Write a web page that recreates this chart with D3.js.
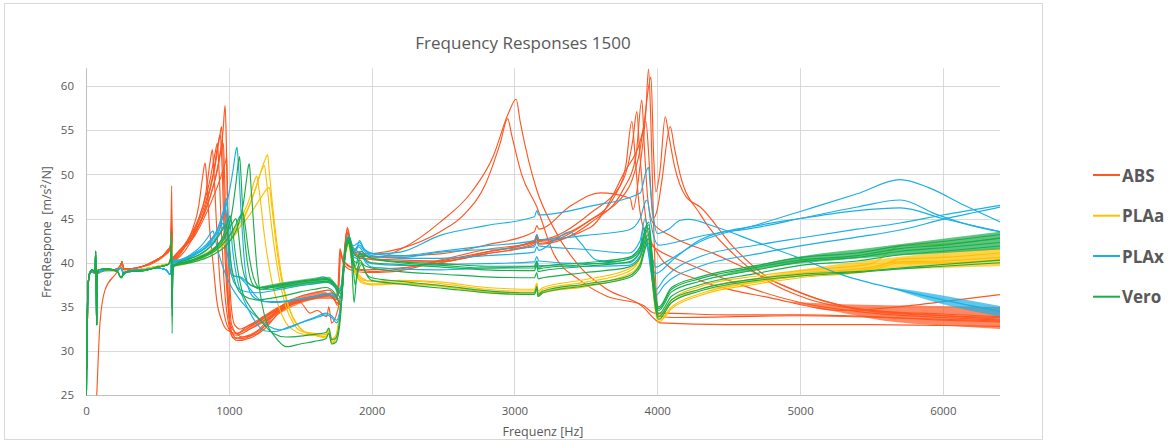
<!DOCTYPE html>
<html><head><meta charset="utf-8">
<script src="https://cdn.jsdelivr.net/npm/d3@7"></script>
<style>body{margin:0;background:#fff} text{font-family:"Open Sans",sans-serif}</style>
</head><body><svg id="c" width="1175" height="443"></svg>
<script>
const seriesNames = ["ABS","PLAa","PLAx","Vero"];
const seriesColors = ["#FF5722","#FFC000","#1AAFE6","#19AD4C"];
const xTicks = [0,1000,2000,3000,4000,5000,6000];
const yTicks = [25,30,35,40,45,50,55,60];

// shared low-frequency parts [Hz, value]
const absLow = [[5,28],[12,35.5],[22,38.6],[40,39.1],[62,38.8],[70,39.6],[78,38.8],[120,39.1],[200,39.2],[240,39.6],[252,40.1],[262,39.3],[300,39.3],[400,39.6],[480,40.2],[540,40.8],[585,41.6]];
const plaaLow = [[5,29],[12,36],[22,38.6],[40,39],[70,38.9],[150,39.1],[220,39.1],[248,39.5],[262,38.9],[300,39.1],[400,39.3],[500,39.6],[575,39.9]];
const plaxLow = [[5,29],[12,36],[22,38.6],[40,39],[70,38.9],[150,39.2],[220,39.2],[248,39.4],[262,38.7],[300,39.1],[400,39.2],[500,39.4],[560,39.2],[588,38.7]];
const veroLow = [[3,25],[8,33],[15,37.5],[25,38.8],[45,39.2],[62,38.9],[68,41.3],[72,36],[75,33],[78,38.6],[90,39.2],[150,39.3],[220,39],[245,38.3],[258,38.6],[270,38.9],[300,39],[400,39.1],[500,39.5],[575,39.8]];

// ABS curves
const abs1 = absLow.concat([[594,42.5],[600,48.7],[604,37.5],[610,40.2],[620,40.3],[680,41.5],[740,43.5],[790,46.5],[815,49.5],[834,51.3],[845,49.5],[865,44],[892,39.6],[915,35.8],[950,33.5],[987,32.4],[1050,32],[1150,32.8],[1250,33.8],[1400,35.3],[1500,35.8],[1600,36.2],[1700,36.5],[1745,36],[1765,37.5],[1778,41.6],[1795,40.5],[1830,39.8],[1900,39.2],[2000,39],[2200,39.3],[2480,40.3],[2800,41.5],[3140,42.3],[3157,42.9],[3170,42.2],[3500,44.5],[3700,47.5],[3780,51],[3822,56],[3845,52],[3870,47],[3920,43],[3960,42],[4000,41.5],[4200,40],[4500,38],[5000,35.5],[5500,34.3],[6000,33.8],[6400,33.5]]);
const abs2 = absLow.concat([[594,42],[600,45],[604,38.5],[610,40.3],[620,40.5],[700,42],[780,44.5],[840,48],[870,51.5],[885,52.8],[895,50.5],[915,44],[940,37.5],[970,34],[1000,32.5],[1050,31.8],[1150,32.5],[1250,33.5],[1400,35],[1500,35.5],[1569,34.3],[1620,34.6],[1686,33.9],[1700,35],[1720,33.2],[1760,34.5],[1790,37],[1815,42],[1830,44],[1850,42.5],[1880,41.2],[1950,41],[2036,41.1],[2200,41.6],[2480,43.5],[2650,45.5],[2800,49],[2900,53.5],[2953,56.3],[2980,54.5],[3050,50],[3157,46.3],[3272,41.1],[3460,38],[3647,36.2],[3900,35.2],[3980,34.3],[4020,34.3],[4500,34.1],[5000,34.1],[5500,33.9],[6000,33.5],[6400,33.3]]);
const abs3 = absLow.concat([[594,41.8],[600,44],[604,39],[610,40.4],[620,40.6],[700,42.3],[800,45.5],[870,49.5],[905,52.5],[920,53.5],[930,51],[950,43],[975,36],[1000,33],[1030,31.5],[1100,31.6],[1200,32.3],[1300,34],[1400,35.5],[1500,36.2],[1600,36.6],[1700,36.9],[1750,36.2],[1780,35.5],[1800,39.5],[1825,43.5],[1850,42.3],[1900,41.3],[2036,40.6],[2200,41.5],[2480,44.6],[2700,48],[2850,52],[2960,57],[3012,58.5],[3040,56],[3100,51.5],[3157,48.2],[3272,44],[3460,39.5],[3647,37],[3900,35],[3990,33.5],[4020,33.2],[4500,33],[5500,33],[6000,32.9],[6400,32.8]]);
const abs4 = absLow.concat([[594,41.7],[600,43],[604,39.5],[610,40.3],[620,40.4],[720,42.5],[820,46],[890,50],[925,53.5],[940,54.5],[950,52],[970,42],[990,36],[1010,33],[1050,32],[1100,31.6],[1200,32],[1300,33.8],[1400,35.2],[1500,35.9],[1600,36.2],[1700,36.4],[1760,35.5],[1785,36],[1810,41],[1830,43.5],[1860,41.5],[1950,40.5],[2100,40.2],[2480,40.1],[2800,41.2],[3140,42.5],[3157,43.2],[3170,42.6],[3531,45.6],[3762,49.4],[3830,54],[3857,57.1],[3875,53],[3900,48],[3940,43],[3970,42],[4050,40],[4300,38],[4800,36],[5300,34.6],[5800,35.2],[6100,35.8],[6400,36.4]]);
const abs5 = absLow.concat([[594,41.6],[600,42.5],[604,38.8],[610,40.1],[620,40.2],[720,42],[830,46],[905,51],[938,54.5],[950,55.4],[958,52.5],[975,43],[995,35.5],[1020,32.2],[1060,31.4],[1120,31.5],[1200,32.2],[1300,33.5],[1400,35],[1500,35.6],[1600,36],[1700,36.3],[1750,35.8],[1770,37.5],[1780,41.3],[1800,40.3],[1850,39.5],[1950,39.2],[2100,39.3],[2480,40],[2800,41],[3140,42],[3157,42.7],[3170,42.1],[3531,44.5],[3762,48.3],[3850,52],[3892,58.4],[3910,53],[3935,47],[3970,44.5],[4100,43],[4400,41],[4800,38],[5200,35.5],[5800,34.2],[6400,33.8]]);
const abs6 = absLow.concat([[594,42],[600,44],[604,38],[610,40.5],[620,40.7],[730,42.5],[850,46.5],[920,50.5],[950,53],[962,53.5],[970,50],[985,41],[1000,35],[1020,31.8],[1060,31.2],[1150,31.5],[1250,32.5],[1350,34.3],[1450,35.4],[1550,36],[1650,36.3],[1720,36.6],[1760,35.2],[1785,35.5],[1815,42],[1830,43.8],[1860,41.8],[1920,40.7],[2036,40.7],[2480,41],[2800,42],[3140,43.5],[3157,44.2],[3170,43.8],[3400,46.5],[3600,47.9],[3811,47.3],[3830,46],[3880,51],[3920,57],[3939,61.9],[3955,56],[3975,44],[3995,36],[4010,34],[4100,33.8],[5000,34],[5600,33.8],[6400,33.4]]);
const abs7 = absLow.concat([[594,42.3],[600,46],[604,37.5],[610,40.6],[620,40.8],[740,43],[860,47],[930,51.5],[960,55],[974,57.8],[982,54],[992,45],[1000,40.5],[1015,35.5],[1040,33],[1080,32.5],[1150,33],[1250,34],[1350,35],[1450,35.6],[1550,35.8],[1650,36.1],[1720,36.3],[1760,35.4],[1785,35.5],[1812,41],[1828,43.3],[1860,41.5],[1920,40.5],[2036,40.4],[2480,40.2],[2800,41],[3140,42.2],[3157,43],[3170,42.4],[3531,44],[3762,50],[3900,55],[3956,61],[3975,52],[3990,48],[4020,50.5],[4056,56.5],[4080,54.5],[4120,51],[4200,47.5],[4301,46.3],[4532,41.8],[4768,38.4],[5002,36.6],[5234,35.4],[5500,34.5],[6000,34],[6400,33.6]]);
const abs8 = [[55,18],[75,25],[98,33.2],[133,36.9],[215,38.9],[250,39.9],[270,39.2],[350,39.4],[450,39.8],[550,40.8],[590,41.5],[600,44.5],[606,38.5],[620,40.5],[760,43],[880,47],[950,50],[978,51.5],[985,52],[990,49],[998,41],[1005,36],[1020,33],[1060,32],[1120,32.7],[1200,33.3],[1300,34.3],[1400,35.1],[1500,35.7],[1600,36],[1700,36.4],[1750,35.8],[1772,37.6],[1782,41],[1800,40],[1850,39.2],[1950,38.9],[2150,39],[2480,40.2],[2800,41.2],[3140,42.4],[3157,43.1],[3170,42.5],[3531,44.8],[3800,48.5],[3870,52],[3920,56],[3945,51],[3970,45],[4000,46],[4030,49],[4091,55.4],[4120,53],[4160,50],[4300,45.5],[4532,41],[4768,38],[5002,36.2],[5500,34.6],[6000,34.2],[6400,33.9]];

// PLAa curves
const plaa1 = plaaLow.concat([[592,40.4],[599,42.5],[605,38.6],[612,39.7],[650,39.8],[750,40.3],[850,41],[950,42],[1030,43.5],[1100,45.5],[1150,47.5],[1180,49.3],[1196,49.8],[1210,48.5],[1250,43],[1300,38],[1350,35],[1400,33.2],[1450,32.4],[1500,32],[1600,31.8],[1680,31.7],[1700,32.4],[1720,31.2],[1750,31.5],[1775,34],[1800,39],[1830,42.5],[1860,40.5],[1900,38.6],[1950,38],[2100,37.8],[2300,37.9],[2500,37.6],[2800,37],[3000,36.8],[3140,36.8],[3157,37.5],[3165,36.6],[3200,37],[3500,37.8],[3800,39],[3870,40.2],[3920,42.5],[3935,43],[3960,39],[3985,35],[4005,33.8],[4100,35.5],[4300,37],[4700,38.2],[5000,38.8],[5500,39.5],[5680,40.1],[6000,40.2],[6400,40.6]]);
const plaa2 = plaaLow.concat([[592,40.3],[599,42],[605,38.8],[612,39.6],[650,39.7],[750,40.1],[850,40.8],[950,41.8],[1050,43.3],[1120,45.5],[1180,48],[1230,50.5],[1250,51],[1262,49.5],[1300,44],[1350,38.5],[1400,35],[1450,33.2],[1500,32.3],[1600,31.9],[1680,31.6],[1700,32.2],[1720,31],[1750,31.4],[1778,34.5],[1805,40],[1835,42.2],[1870,39.5],[1920,38],[2000,37.6],[2200,37.7],[2500,37.4],[2800,36.7],[3140,36.5],[3157,37.2],[3165,36.3],[3200,36.7],[3500,37.5],[3800,38.7],[3880,40],[3925,42.3],[3940,42.5],[3965,38],[3990,34.5],[4010,33.5],[4100,35],[4300,36.5],[4700,37.8],[5000,38.5],[5500,39.3],[5700,40.4],[6000,40.6],[6400,41.1]]);
const plaa3 = plaaLow.concat([[592,40.5],[599,43],[605,38.5],[612,39.8],[650,39.9],[750,40.4],[850,41.2],[950,42.3],[1050,43.8],[1130,46],[1200,49],[1250,51.5],[1272,52.2],[1282,50.5],[1320,44.5],[1370,38.5],[1420,35],[1480,33],[1530,32.2],[1600,32],[1680,31.9],[1700,32.6],[1720,31.4],[1750,31.8],[1780,35],[1808,40.5],[1838,42.8],[1875,40],[1930,38.3],[2000,37.9],[2200,38],[2500,37.8],[2800,37.2],[3140,37],[3157,37.7],[3165,36.8],[3200,37.2],[3500,38.1],[3800,39.3],[3880,40.6],[3925,43.5],[3940,43.8],[3965,39],[3990,35],[4010,34],[4100,35.8],[4300,37.3],[4700,38.5],[5000,39.1],[5500,39.9],[5700,41.9],[6000,42.1],[6400,42.8]]);
const plaa4 = plaaLow.concat([[592,40.3],[599,41.8],[605,38.9],[612,39.6],[650,39.8],[750,40.2],[850,40.9],[950,41.9],[1050,43.5],[1150,45.5],[1230,47.5],[1270,48.4],[1285,48.5],[1300,46.5],[1340,41],[1390,36.5],[1450,33.7],[1500,32.6],[1550,32],[1620,31.7],[1680,31.5],[1700,32.1],[1720,30.9],[1750,31.2],[1780,34.8],[1810,40.2],[1840,42],[1880,39.3],[1930,37.7],[2000,37.5],[2200,37.6],[2500,37.3],[2800,36.6],[3140,36.4],[3157,37.1],[3165,36.2],[3200,36.6],[3500,37.3],[3800,38.5],[3880,39.8],[3925,42],[3940,42.2],[3965,38],[3990,34.2],[4010,33.3],[4100,34.8],[4300,36.3],[4700,37.6],[5000,38.3],[5500,39.1],[5700,40],[6000,40],[6400,40.3]]);

// PLAx curves
const plax1 = plaxLow.concat([[596,39],[600,41.5],[605,38.8],[615,40.2],[650,40.3],[750,41],[850,42.2],[930,44],[990,47],[1030,50.5],[1050,52.7],[1057,53.1],[1066,51.5],[1085,46],[1110,40],[1140,37],[1180,36],[1250,35.6],[1350,35.6],[1450,35.8],[1550,36],[1650,36.3],[1720,36.5],[1765,35.9],[1790,36.6],[1815,41],[1838,43.1],[1870,41.6],[1890,41.3],[1915,42.5],[1945,41.6],[2000,41],[2200,40.8],[2480,41.3],[2800,41.9],[3140,42.5],[3157,43.2],[3170,42.6],[3500,43.1],[3800,43.7],[3880,45],[3920,47],[3930,47.1],[3955,44.5],[3985,42.5],[4010,42],[4150,42.4],[4300,43],[4700,44],[5000,45],[5400,46.3],[5702,47.1],[5950,45.5],[6200,44.2],[6404,43.5]]);
const plax2 = plaxLow.concat([[596,39.1],[600,40.5],[605,39],[615,40.3],[650,40.3],[750,40.9],[850,42],[920,43.8],[960,45.8],[978,47],[985,47.3],[992,46],[1005,42],[1030,38.5],[1079,38.4],[1150,37.5],[1219,37.2],[1300,37.4],[1400,37.7],[1500,37.9],[1600,38.1],[1661,38.4],[1720,37.8],[1779,37.1],[1800,38.5],[1822,42],[1840,42.9],[1870,41.9],[1915,42.3],[1950,41.5],[2036,41],[2200,41.2],[2480,43.1],[2800,44.2],[3140,45.2],[3157,45.9],[3170,45.4],[3531,46.4],[3881,47.9],[3920,50.2],[3939,50.8],[3952,48.5],[3975,45],[4000,43.3],[4080,43.8],[4161,44.8],[4220,44.9],[4400,44.1],[4700,42.3],[5000,40.5],[5300,38.6],[5702,36.9],[6000,35.8],[6404,34.5]]);
const plax3 = plaxLow.concat([[596,39],[600,40.8],[605,38.9],[615,40.1],[650,40.1],[750,40.6],[850,41.5],[920,43],[955,45],[975,46.5],[983,45.5],[995,42],[1020,38.5],[1060,37.2],[1100,36.8],[1200,36.6],[1300,36.8],[1400,37.1],[1500,37.4],[1600,37.6],[1680,37.8],[1740,37.3],[1785,36.5],[1812,41.2],[1836,42.6],[1870,41.2],[1910,41.8],[1950,41],[2000,40.7],[2200,40.6],[2480,41.2],[2800,41.5],[3140,41.8],[3157,42.4],[3170,41.9],[3500,41.5],[3800,41.1],[3880,42.5],[3915,45],[3930,44],[3960,41],[3990,39.5],[4050,40],[4301,42.4],[4700,44.3],[5002,45.8],[5400,47.8],[5702,49.4],[5900,48.5],[6150,46.5],[6404,44.6]]);
const plax4 = plaxLow.concat([[596,38.9],[600,40.2],[605,39.1],[615,40],[650,40.1],[720,40.8],[800,41.8],[850,42.8],[880,43.5],[890,43.6],[900,43],[930,41],[970,39],[1010,37.5],[1060,36.2],[1120,35],[1200,33.8],[1280,32.8],[1359,32.4],[1450,32.8],[1522,33.3],[1600,33.7],[1686,34.1],[1720,33.8],[1755,33.2],[1785,35],[1812,41],[1835,42.6],[1870,40.8],[1910,41.3],[1950,40.3],[2000,39.9],[2200,39.7],[2480,39.8],[2800,39.9],[3140,40.1],[3157,40.7],[3170,40.2],[3500,39.9],[3800,40],[3880,41.2],[3915,43],[3930,42.3],[3960,39],[3990,37],[4050,38.2],[4301,40.7],[4700,42],[5002,42.8],[5400,43.8],[5702,44.5],[6000,45.4],[6404,46.5]]);
const plax5 = plaxLow.concat([[596,39],[600,40.5],[605,39],[615,40.1],[650,40.2],[750,40.8],[850,41.8],[930,43.2],[975,44.5],[1000,45],[1010,44.2],[1030,41],[1060,38],[1100,36],[1150,34.3],[1200,33],[1250,32.3],[1320,32.2],[1400,32.6],[1500,33.2],[1600,33.8],[1680,34.3],[1720,34],[1755,33.5],[1785,35.5],[1813,41.3],[1836,42.8],[1870,40.7],[1900,40.5],[1920,41],[1960,40],[2000,39.5],[2200,39.3],[2480,39.2],[2800,39.4],[3140,39.6],[3157,40.2],[3170,39.7],[3500,39.6],[3800,39.7],[3880,40.8],[3915,42.5],[3930,41.8],[3960,38.5],[3990,36.3],[4050,37.5],[4301,39.6],[4700,41],[5002,41.9],[5400,42.9],[5702,43.7],[6000,44.9],[6404,46.3]]);
const plax6 = plaxLow.concat([[596,39],[600,40.6],[605,38.9],[615,40.2],[650,40.2],[750,40.8],[850,41.9],[920,43.4],[950,44.3],[960,44.5],[970,43.8],[990,41],[1020,38.6],[1079,38.3],[1150,37],[1219,35.8],[1300,35.5],[1400,35.6],[1500,35.9],[1600,36.2],[1680,36.5],[1740,36.2],[1779,36.8],[1805,40],[1830,42.8],[1865,41.3],[1915,42],[1955,41.2],[2000,40.8],[2200,40.5],[2480,40.5],[2800,40.8],[3140,41.2],[3157,41.8],[3170,41.4],[3300,42.8],[3390,43.5],[3450,42.5],[3577,40.3],[3700,40.1],[3800,40.5],[3880,41.8],[3905,44],[3920,43.2],[3955,40],[3990,38.8],[4100,40.2],[4301,42.6],[4700,44.2],[5002,45],[5400,45.9],[5702,46.2],[6000,45],[6404,43.5]]);

// Vero curves
const vero1 = veroLow.concat([[592,40.5],[598,43.5],[603,32],[608,39.5],[630,39.9],[700,40.1],[800,40.6],[900,41.5],[970,42.8],[1020,45.5],[1050,49],[1068,51.5],[1075,52],[1083,50.5],[1100,45],[1130,40],[1170,37.5],[1220,37],[1300,37.2],[1400,37.5],[1500,37.8],[1600,38],[1680,38.1],[1740,37.5],[1785,36.5],[1815,41.5],[1840,42.8],[1870,40.5],[1885,39.6],[1915,41],[1950,40.8],[2000,40.5],[2200,40],[2500,39.7],[2800,39.4],[3140,39.4],[3157,40],[3165,39.3],[3200,39.4],[3500,39.8],[3800,40.4],[3880,41.5],[3925,44],[3940,44.3],[3965,40.5],[3990,36],[4010,34.8],[4100,37],[4300,38.2],[4700,39.5],[5002,40.3],[5400,40.8],[5702,41.6],[6000,42],[6404,42.8]]);
const vero2 = veroLow.concat([[592,40.3],[598,42],[603,35],[608,39.5],[630,39.7],[700,39.9],[800,40.3],[900,41],[1000,42.3],[1060,44],[1100,46.5],[1125,49.5],[1138,51],[1144,51.2],[1152,49.5],[1175,44],[1196,39.6],[1230,35.5],[1270,33],[1320,31.7],[1405,30.5],[1500,30.8],[1600,31.1],[1680,31.4],[1700,32],[1720,30.8],[1750,31],[1780,33.5],[1808,40],[1835,42.5],[1860,40],[1877,35.5],[1895,38.5],[1920,40.3],[1960,38.8],[2000,38.3],[2200,37.9],[2500,37.4],[2900,36.7],[3140,36.6],[3157,37.3],[3165,36.4],[3200,36.8],[3500,37.6],[3800,38.5],[3880,39.8],[3925,42.5],[3940,42.7],[3965,38.5],[3990,35],[4010,33.9],[4100,35.8],[4300,37],[4700,38.2],[5000,38.7],[5400,39],[5702,39.4],[6000,39.8],[6404,40.3]]);
const vero3 = veroLow.concat([[592,40.4],[598,42.5],[603,34],[608,39.6],[630,39.8],[700,40],[800,40.5],[900,41.3],[980,42.5],[1040,44],[1085,45.4],[1100,45.6],[1112,44.5],[1140,41],[1180,38],[1230,37],[1300,37],[1400,37.3],[1500,37.6],[1600,37.8],[1680,37.9],[1740,37.3],[1785,36],[1815,41],[1842,42.6],[1875,40.2],[1900,40],[1925,40.8],[1970,40.2],[2000,40],[2200,39.8],[2500,39.5],[2800,39.2],[3140,39.1],[3157,39.7],[3165,39],[3200,39.1],[3500,39.6],[3800,40.1],[3880,41.3],[3925,43.6],[3940,43.9],[3965,40],[3990,35.8],[4010,34.6],[4100,36.7],[4300,37.9],[4700,39.2],[5002,40.1],[5400,40.6],[5702,41.3],[6000,41.7],[6404,42.3]]);
const vero4 = veroLow.concat([[592,40.2],[598,41.5],[603,36],[608,39.6],[630,39.7],[700,40],[800,40.6],[900,41.7],[960,43],[995,44.8],[1010,45.3],[1020,44.5],[1050,40.5],[1090,37],[1150,35],[1220,33.5],[1312,32],[1400,31.6],[1500,31.7],[1600,31.9],[1680,32.1],[1700,32.6],[1720,31.3],[1750,31.5],[1780,34],[1810,40.5],[1838,42.3],[1870,39.5],[1885,37.5],[1905,39],[1930,39.8],[1970,38.5],[2000,38],[2200,37.6],[2500,37.1],[2900,36.5],[3140,36.4],[3157,37.1],[3165,36.2],[3200,36.6],[3500,37.4],[3800,38.3],[3880,39.5],[3925,42],[3940,42.2],[3965,38],[3990,34.6],[4010,33.6],[4100,35.5],[4300,36.8],[4700,38],[5000,38.5],[5400,38.9],[5702,39.3],[6000,39.6],[6404,40]]);
const vero5 = veroLow.concat([[592,40.3],[598,42],[603,35],[608,39.5],[630,39.8],[700,40.1],[800,40.7],[900,41.6],[970,43],[1030,44.6],[1050,45],[1062,44],[1090,40],[1130,37.8],[1200,37.2],[1300,37.3],[1400,37.6],[1500,37.9],[1600,38.1],[1680,38.2],[1740,37.7],[1785,36.8],[1815,41.8],[1842,43],[1875,41],[1900,40.7],[1925,41.3],[1970,40.7],[2000,40.5],[2200,40.1],[2500,39.9],[2800,39.6],[3140,39.6],[3157,40.2],[3165,39.5],[3200,39.6],[3500,40],[3800,40.6],[3880,41.8],[3925,44.3],[3940,44.6],[3965,40.8],[3990,36.2],[4010,35],[4100,37.2],[4300,38.4],[4700,39.7],[5002,40.6],[5400,41.1],[5702,41.9],[6000,42.4],[6404,43.2]]);
const vero6 = veroLow.concat([[592,40.3],[598,42],[603,35],[608,39.5],[630,39.9],[700,40.3],[800,41],[880,42],[940,43.3],[970,44.1],[980,44.3],[990,43.5],[1015,40],[1050,37.5],[1100,36.3],[1200,35.8],[1300,36],[1400,36.3],[1500,36.7],[1600,37],[1680,37.2],[1740,36.6],[1785,35.2],[1812,40.5],[1840,42.2],[1870,40],[1895,39.2],[1920,40],[1960,39.6],[2000,39.4],[2200,39],[2500,38.7],[2800,38.4],[3140,38.3],[3157,38.9],[3165,38.2],[3200,38.3],[3500,38.9],[3800,39.5],[3880,40.6],[3925,43],[3940,43.2],[3965,39.3],[3990,35.4],[4010,34.2],[4100,36.2],[4300,37.5],[4700,38.8],[5002,39.7],[5400,40.2],[5702,40.9],[6000,41.3],[6404,41.9]]);

const absNoise = [[1100,32.2,32.2],[1200,32.8,33.5],[1350,34.2,35],[1500,35.4,36.2],[1650,35.9,36.8],[1750,35.9,35.9]];
const absNoiseHigh = [[4900,35.6,35.6],[5300,34.3,35.3],[5600,33.4,35.2],[6000,32.9,35.1],[6400,32.5,35]];
const plaaNoise = [[4300,36.8,36.8],[5000,38.4,39.2],[5500,39.1,40.3],[6000,39.4,41.2],[6400,39.6,41.7]];
const plaxNoise = [[5600,37.3,37.3],[6000,35.3,36.3],[6400,33.9,35.1]];
const veroNoiseLow = [[1200,37.2,37.2],[1350,37.1,37.7],[1550,37.5,38.2],[1700,37.7,38.4],[1750,37.4,37.4]];
const veroNoiseHigh = [[4300,38,38],[5000,39.9,40.7],[5500,40.6,41.7],[6000,41.1,42.7],[6400,41.5,43.5]];

const absCurves = [abs1,abs2,abs3,abs4,abs5,abs6,abs7,abs8];
const plaaCurves = [plaa1,plaa2,plaa3,plaa4];
const plaxCurves = [plax1,plax2,plax3,plax4,plax5,plax6];
const veroCurves = [vero1,vero2,vero3,vero4,vero5,vero6];
const allSeries = [absCurves, plaaCurves, plaxCurves, veroCurves];
const allNoise = [[absNoise,absNoiseHigh],[plaaNoise],[plaxNoise],[veroNoiseLow,veroNoiseHigh]];

const svg = d3.select("#c");
const L = 86, R = 1000, T = 68.3, B = 395.3;
const x = d3.scaleLinear().domain([0,6400]).range([L,R]);
const y = d3.scaleLinear().domain([25,62]).range([B,T]);
const grey = "#595959";

svg.append("rect").attr("x",4.5).attr("y",3.5).attr("width",1038).attr("height",436)
  .attr("fill","#fff").attr("stroke","#d9d9d9");

svg.append("g").selectAll("line").data(yTicks).join("line")
  .attr("x1",L).attr("x2",R).attr("y1",d=>Math.round(y(d))+0.5).attr("y2",d=>Math.round(y(d))+0.5)
  .attr("stroke",d=>d===25?"#bfbfbf":"#d9d9d9");
svg.append("g").selectAll("line").data(xTicks).join("line")
  .attr("y1",T).attr("y2",B).attr("x1",d=>Math.round(x(d))+0.5).attr("x2",d=>Math.round(x(d))+0.5)
  .attr("stroke",d=>d===0?"#bfbfbf":"#d9d9d9");

const yAxis = svg.append("g").attr("transform",`translate(${L},0)`)
  .call(d3.axisLeft(y).tickValues(yTicks).tickSize(0).tickPadding(12));
const xAxis = svg.append("g").attr("transform",`translate(0,${B})`)
  .call(d3.axisBottom(x).tickValues(xTicks).tickSize(0).tickPadding(12).tickFormat(d3.format("d")));
[yAxis,xAxis].forEach(a=>{
  a.select(".domain").remove();
  a.selectAll("text").attr("fill",grey).style("font-family","'Open Sans',sans-serif").style("font-size","11.5px");
});

svg.append("defs").append("clipPath").attr("id","clip").append("rect")
  .attr("x",L).attr("y",T-2).attr("width",R-L).attr("height",B-T+2);

const line = d3.line().x(d=>x(d[0])).y(d=>y(d[1])).curve(d3.curveMonotoneX);
const band = d3.area().x(d=>x(d[0])).y0(d=>y(d[1])).y1(d=>y(d[2])).curve(d3.curveMonotoneX);
const plot = svg.append("g").attr("clip-path","url(#clip)");
allSeries.forEach((curves,i)=>{
  const g = plot.append("g");
  g.selectAll("path.band").data(allNoise[i]).join("path").attr("class","band")
    .attr("d",band).attr("fill",seriesColors[i]).attr("fill-opacity",0.7);
  g.selectAll("path.crv").data(curves).join("path").attr("class","crv")
    .attr("d",line).attr("fill","none").attr("stroke",seriesColors[i])
    .attr("stroke-width",1.15).attr("stroke-linejoin","round");
});

svg.append("text").attr("x",523).attr("y",48.5).attr("text-anchor","middle")
  .attr("fill",grey).style("font-size","17px").text("Frequency Responses 1500");
svg.append("text").attr("x",543).attr("y",436).attr("text-anchor","middle")
  .attr("fill",grey).style("font-size","12.5px").text("Frequenz [Hz]");
svg.append("text").attr("transform","translate(51,232) rotate(-90)").attr("text-anchor","middle")
  .attr("fill",grey).style("font-size","12.5px").style("white-space","pre").text("FreqRespone  [m/s²/N]");

const lg = svg.append("g");
const legY = [175,215.7,256,296.7];
seriesNames.forEach((n,i)=>{
  lg.append("line").attr("x1",1093).attr("x2",1120).attr("y1",legY[i]).attr("y2",legY[i])
    .attr("stroke",seriesColors[i]).attr("stroke-width",2);
  lg.append("text").attr("x",1122).attr("y",legY[i]+6.5).attr("fill",grey)
    .style("font-size","17px").style("font-weight","700").text(n);
});
</script></body></html>
